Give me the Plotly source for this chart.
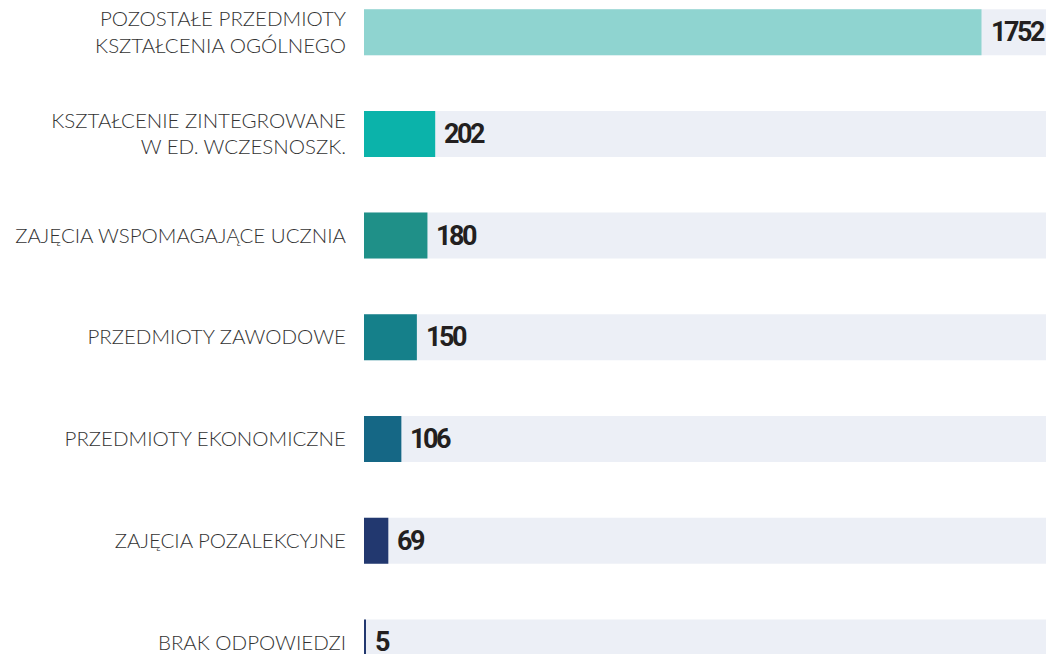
import plotly.graph_objects as go

categories = [
    "POZOSTAŁE PRZEDMIOTY<br>KSZTAŁCENIA OGÓLNEGO",
    "KSZTAŁCENIE ZINTEGROWANE<br>W ED. WCZESNOSZK.",
    "ZAJĘCIA WSPOMAGAJĄCE UCZNIA",
    "PRZEDMIOTY ZAWODOWE",
    "PRZEDMIOTY EKONOMICZNE",
    "ZAJĘCIA POZALEKCYJNE",
    "BRAK ODPOWIEDZI",
]
values = [1752, 202, 180, 150, 106, 69, 5]
colors = ["#8FD4D0", "#0BB3AA", "#1F9088", "#15808A", "#156785", "#22386F", "#22386F"]
background_max = 1935

fig = go.Figure()
fig.add_trace(go.Bar(
    y=categories, x=[background_max] * len(categories), orientation="h",
    marker=dict(color="#ECEFF6", line=dict(width=0)), hoverinfo="skip", showlegend=False,
))
fig.add_trace(go.Bar(
    y=categories, x=values, orientation="h",
    marker=dict(color=colors, line=dict(width=0)), showlegend=False,
))

for c, v in zip(categories, values):
    fig.add_annotation(
        x=v, y=c, xref="x", yref="y",
        text='<span style="letter-spacing:-2.5px">%d</span>' % v, showarrow=False,
        xanchor="left", yanchor="middle", xshift=7, yshift=0,
        font=dict(family="Roboto", size=27, color="#231F20", weight="bold"),
    )

# page body has an 8px margin, so the figure is sized to fit the visible window area
fig.update_layout(
    width=1038, height=646,
    margin=dict(l=356, r=0, t=0, b=0),
    paper_bgcolor="white", plot_bgcolor="white",
    barmode="overlay", bargap=0.548,
    xaxis=dict(range=[0, 1935], visible=False, fixedrange=True),
    yaxis=dict(
        range=[6.114, -0.238], showgrid=False, zeroline=False, showline=False,
        ticks="", ticklabelstandoff=17, automargin=False,
        tickfont=dict(family="Lato", size=20.5, color="#333333", weight=300),
    ),
)

fig.write_html("out.html")
